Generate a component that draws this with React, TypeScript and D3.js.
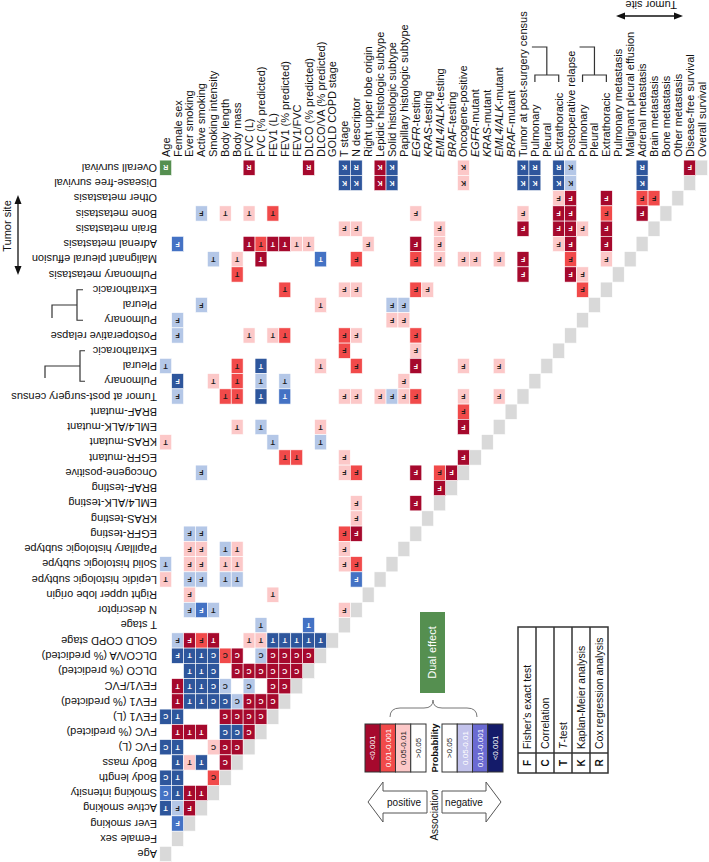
import React from "react";
import * as d3 from "d3";

// Variables (columns left->right, rows bottom->top)
const variables: string[] = [
  "Age", "Female sex", "Ever smoking", "Active smoking", "Smoking intensity",
  "Body length", "Body mass", "FVC (L)", "FVC (% predicted)", "FEV1 (L)",
  "FEV1 (% predicted)", "FEV1/FVC", "DLCO (% predicted)", "DLCO/VA (% predicted)", "GOLD COPD stage",
  "T stage", "N descriptor", "Right upper lobe origin", "Lepidic histologic subtype", "Solid histologic subtype",
  "Papillary histologic subtype", "EGFR-testing", "KRAS-testing", "EML4/ALK-testing", "BRAF-testing",
  "Oncogene-positive", "EGFR-mutant", "KRAS-mutant", "EML4/ALK-mutant", "BRAF-mutant",
  "Tumor at post-surgery census", "Pulmonary", "Pleural", "Extrathoracic", "Postoperative relapse",
  "Pulmonary", "Pleural", "Extrathoracic", "Pulmonary metastasis", "Malignant pleural effusion",
  "Adrenal metastasis", "Brain metastasis", "Bone metastasis", "Other metastasis", "Disease-free survival",
  "Overall survival",
];
const italicGeneCols: number[] = [21, 22, 23, 24, 26, 27, 28, 29];

// [row variable, column variable, significance level, test]
// P3 <0.001 pos, P2 0.01-0.001 pos, P1 0.05-0.01 pos, N1/N2/N3 negative, D dual effect
const associations: [number, number, string, string][] = [
  [45,0,"D","R"],[45,7,"P3","R"],[45,12,"P3","R"],[45,15,"N3","K"],[45,16,"N3","R"],[45,18,"P3","K"],[45,19,"N3","K"],
  [45,25,"P1","K"],[45,30,"N3","K"],[45,31,"N3","R"],[45,33,"N3","R"],[45,34,"N1","K"],[45,40,"N3","R"],[45,44,"P3","F"],
  [44,15,"N3","K"],[44,16,"N3","K"],[44,18,"P3","K"],[44,19,"N3","K"],[44,25,"P1","K"],[44,30,"N3","K"],[44,31,"N3","K"],
  [44,33,"N3","K"],[44,34,"N1","K"],[44,40,"N3","K"],
  [43,33,"P1","F"],[43,34,"P3","F"],[43,37,"P3","F"],[43,40,"P2","F"],[43,41,"P2","F"],
  [42,3,"N1","F"],[42,5,"P1","T"],[42,7,"P1","T"],[42,9,"P2","T"],[42,21,"P1","F"],[42,30,"P1","F"],[42,33,"P3","F"],
  [42,34,"P3","F"],[42,37,"P2","F"],[42,40,"P3","F"],
  [41,15,"P1","F"],[41,16,"P1","F"],[41,23,"P1","F"],[41,30,"P3","F"],[41,33,"P3","F"],[41,34,"P3","F"],[41,35,"P1","F"],[41,37,"P3","F"],
  [40,1,"N2","F"],[40,7,"P3","T"],[40,8,"P2","T"],[40,9,"P3","T"],[40,10,"P3","T"],[40,11,"P1","T"],[40,12,"P1","T"],
  [40,17,"P1","F"],[40,21,"P3","F"],[40,23,"P1","F"],[40,33,"P1","F"],[40,34,"P3","F"],[40,37,"P3","F"],
  [39,4,"N1","T"],[39,6,"P1","T"],[39,8,"P3","T"],[39,13,"N2","T"],[39,16,"P2","F"],[39,21,"P2","F"],[39,23,"P1","F"],
  [39,25,"P1","F"],[39,26,"P1","F"],[39,28,"P1","F"],[39,30,"P3","F"],[39,34,"P2","F"],[39,37,"P1","F"],
  [38,6,"P2","T"],[38,30,"P3","F"],[38,34,"P3","F"],[38,35,"P1","F"],
  [37,10,"P2","T"],[37,15,"P1","F"],[37,16,"P1","F"],[37,21,"P2","F"],[37,22,"P1","F"],[37,35,"P2","F"],
  [36,3,"N1","F"],[36,13,"P1","T"],[36,19,"N1","F"],[36,20,"N1","F"],
  [35,1,"N1","F"],[35,19,"P1","F"],[35,20,"P1","F"],
  [34,1,"N1","F"],[34,7,"P1","T"],[34,9,"P1","T"],[34,10,"P2","T"],[34,15,"P2","F"],[34,16,"P1","F"],[34,21,"P2","F"],
  [33,15,"P2","F"],[33,21,"P1","F"],
  [32,0,"N1","T"],[32,6,"P2","T"],[32,8,"N3","T"],[32,13,"P1","T"],[32,16,"P2","F"],[32,21,"P3","F"],[32,25,"P1","F"],[32,28,"P1","F"],
  [31,1,"N3","F"],[31,4,"P1","T"],[31,6,"P2","T"],[31,8,"N1","T"],[31,10,"N1","T"],[31,20,"P1","F"],
  [30,1,"N1","F"],[30,5,"P2","T"],[30,6,"P2","T"],[30,8,"N3","T"],[30,10,"N2","T"],[30,15,"P1","F"],[30,16,"P1","F"],
  [30,18,"P1","F"],[30,19,"N1","F"],[30,20,"P1","F"],[30,21,"P2","F"],[30,25,"P1","F"],[30,28,"P1","F"],
  [29,25,"P2","F"],
  [28,6,"P1","T"],[28,8,"N1","T"],[28,13,"P1","T"],[28,25,"P3","F"],
  [27,0,"P1","T"],[27,9,"N1","T"],[27,13,"N1","T"],
  [26,10,"P2","T"],[26,11,"P2","T"],[26,15,"P1","F"],[26,25,"P3","F"],
  [25,3,"N1","F"],[25,15,"P1","F"],[25,16,"P2","F"],[25,21,"P3","F"],[25,23,"P2","F"],[25,24,"P3","F"],
  [24,23,"P3","F"],
  [23,16,"P1","F"],[23,21,"P3","F"],
  [22,16,"P1","F"],
  [21,2,"N1","F"],[21,3,"N1","F"],[21,15,"P2","F"],[21,16,"P3","F"],
  [20,2,"P1","F"],[20,3,"P1","F"],[20,5,"N1","T"],[20,6,"P1","T"],[20,15,"P1","F"],
  [19,0,"N1","T"],[19,2,"P1","F"],[19,3,"P1","F"],[19,5,"P1","T"],[19,6,"P1","T"],[19,15,"P1","F"],[19,16,"P2","F"],
  [18,0,"P1","T"],[18,2,"N1","F"],[18,3,"N1","F"],[18,5,"N1","T"],[18,6,"N1","T"],[18,16,"N2","F"],
  [17,2,"P1","F"],[17,9,"P1","T"],
  [16,2,"N1","F"],[16,3,"N2","F"],[16,4,"N1","T"],[16,15,"P1","F"],
  [15,8,"N1","T"],[15,12,"N2","T"],
  [14,1,"N1","F"],[14,2,"P3","F"],[14,3,"P2","F"],[14,4,"P3","T"],[14,7,"P1","T"],[14,8,"P1","T"],
  [14,9,"N3","T"],[14,10,"N3","T"],[14,11,"N3","T"],[14,12,"N3","T"],[14,13,"N3","T"],
  [13,1,"N3","F"],[13,2,"N3","T"],[13,3,"N3","T"],[13,4,"N3","C"],[13,5,"P2","C"],[13,6,"P3","C"],[13,8,"N1","C"],
  [13,9,"P3","C"],[13,10,"P3","C"],[13,11,"P3","C"],[13,12,"P3","C"],
  [12,2,"N3","T"],[12,3,"N3","T"],[12,4,"N3","C"],[12,6,"P3","C"],[12,7,"P3","C"],[12,8,"P3","C"],[12,9,"P3","C"],
  [12,10,"P3","C"],[12,11,"P3","C"],
  [11,1,"P3","T"],[11,2,"N3","T"],[11,3,"N3","T"],[11,4,"N3","C"],[11,5,"N1","C"],[11,7,"N1","C"],[11,9,"P3","C"],[11,10,"P3","C"],
  [10,1,"P3","T"],[10,2,"N3","T"],[10,3,"N3","T"],[10,4,"N3","C"],[10,5,"N3","C"],[10,6,"N1","C"],[10,7,"P3","C"],
  [10,8,"P3","C"],[10,9,"P3","C"],
  [9,0,"N3","C"],[9,1,"N3","T"],[9,5,"P3","C"],[9,6,"P3","C"],[9,7,"P3","C"],[9,8,"P3","C"],
  [8,1,"P3","T"],[8,2,"P3","T"],[8,3,"P3","T"],[8,5,"N3","C"],[8,6,"N3","C"],[8,7,"P3","C"],
  [7,0,"N3","C"],[7,1,"N3","T"],[7,4,"P1","C"],[7,5,"P3","C"],[7,6,"P3","C"],
  [6,1,"N3","T"],[6,2,"P1","T"],[6,3,"N3","T"],[6,5,"P3","C"],
  [5,0,"N3","C"],[5,1,"N3","T"],[5,4,"P2","C"],
  [4,0,"N2","C"],[4,1,"N3","T"],[4,2,"P3","T"],[4,3,"P3","T"],
  [3,0,"N3","T"],[3,1,"N1","F"],[3,2,"P3","F"],
  [2,1,"N2","F"],
];

const positiveLevels: string[] = ["<0.001", "0.01-0.001", "0.05-0.01", ">0.05"];
const negativeLevels: string[] = [">0.05", "0.05-0.01", "0.01-0.001", "<0.001"];
const testLetters: string[] = ["F", "C", "T", "K", "R"];
const testNames: string[] = ["Fisher's exact test", "Correlation", "T-test", "Kaplan-Meier analysis", "Cox regression analysis"];

const levelColor: Record<string, string> = {
  P3: "#a6092d", P2: "#f14a4a", P1: "#fcc8c8",
  N1: "#b4c7e7", N2: "#4472c4", N3: "#2e569c", D: "#558f50",
};
const letterColor: Record<string, string> = {
  P3: "#fff", P2: "#1a1a1a", P1: "#1a1a1a", N1: "#1a1a1a", N2: "#fff", N3: "#fff", D: "#fff",
};
const posLegendColors = ["#a6092d", "#f14a4a", "#fcc8c8", "#ffffff"];
const negLegendColors = ["#ffffff", "#c3c3ec", "#6a6ad2", "#141b6a"];
const posLegendText = ["#fff", "#fff", "#222", "#222"];
const negLegendText = ["#222", "#fff", "#fff", "#fff"];

const FONT = "'Liberation Sans', Arial, Helvetica, sans-serif";

export default function App() {
  const W = 709, H = 862;
  const n = variables.length;
  const x = d3.scaleBand<number>().domain(d3.range(n)).range([159.75, 707.6]).padding(0);
  const y = d3.scaleBand<number>().domain(d3.range(n - 1, -1, -1)).range([160.1, 861.6]).padding(0);
  const bw = x.bandwidth(), bh = y.bandwidth();
  const cx = (i: number) => (x(i) as number) + bw / 2;
  const cy = (j: number) => (y(j) as number) + bh / 2;

  const colLabel = (i: number) => {
    const lab = variables[i];
    if (italicGeneCols.includes(i)) {
      const k = lab.lastIndexOf("-");
      return (<><tspan fontStyle="italic">{lab.slice(0, k)}</tspan><tspan>{lab.slice(k)}</tspan></>);
    }
    return lab;
  };

  // legend scales
  const posX = d3.scaleBand<number>().domain(d3.range(4)).range([365, 426]);
  const negX = d3.scaleBand<number>().domain(d3.range(4)).range([442, 503]);
  const legY0 = 724, legY1 = 772;
  const tabX = d3.scaleBand<number>().domain(d3.range(5)).range([518, 608]);
  const tabY0 = 627, tabY1 = 773, tabSplit = 753;

  const colBracket = (a: number, m: number, b: number) =>
    `M${cx(a)},82V75H${cx(b)}V82M${cx(m)},75V47H${cx(a) - 3}`;
  const rowBracketA = `M85,${cy(33)}H80V${cy(31)}H85M80,${cy(32)}H45V${cy(32) + 12}`;
  const rowBracketB = `M83,${cy(37)}H77V${cy(35)}H83M77,${cy(36)}H52V${cy(36) + 13}`;

  return (
    <svg width={W} height={H} style={{ position: "absolute", left: 0, top: 0, background: "#fff" }} fontFamily={FONT}>
      <rect width={W} height={H} fill="#fff" />
      {/* diagonal */}
      {d3.range(n).map((i) => (
        <rect key={"d" + i} x={x(i)} y={y(i)} width={bw} height={bh} fill="#d9d9d9" stroke="#fff" strokeWidth={0.6} />
      ))}
      {/* cells */}
      {associations.map(([r, c, lv, t], k) => (
        <g key={"c" + k}>
          <rect x={x(c)} y={y(r)} width={bw} height={bh} fill={levelColor[lv]} stroke="#fff" strokeWidth={0.6} />
          <text transform={`translate(${cx(c)},${cy(r)}) rotate(180)`} textAnchor="middle" dy="0.35em"
            fontSize={7} fontWeight="bold" fill={letterColor[lv]}>{t}</text>
        </g>
      ))}
      {/* column labels */}
      {d3.range(n).map((i) => (
        <text key={"cl" + i} transform={`translate(${cx(i)},157) rotate(-90)`} dy="0.36em" fontSize={11} fill="#111">
          {colLabel(i)}
        </text>
      ))}
      {/* row labels */}
      {d3.range(n).map((j) => (
        <text key={"rl" + j} transform={`translate(157,${cy(j)}) rotate(180)`} dy="0.36em" fontSize={11} fill="#111">
          {variables[j]}
        </text>
      ))}
      {/* brackets */}
      <g fill="none" stroke="#333" strokeWidth={1.2}>
        <path d={colBracket(31, 32, 33)} />
        <path d={colBracket(35, 36, 37)} />
        <path d={rowBracketA} />
        <path d={rowBracketB} />
      </g>
      {/* tumor site arrows */}
      <g stroke="#111" strokeWidth={1.3} fill="#111">
        <line x1={18} y1={201} x2={18} y2={269} />
        <path d="M18,195L14.5,204L21.5,204Z" stroke="none" />
        <path d="M18,275L14.5,266L21.5,266Z" stroke="none" />
        <line x1={622} y1={16} x2={677} y2={16} />
        <path d="M616,16L625,12.5L625,19.5Z" stroke="none" />
        <path d="M683,16L674,12.5L674,19.5Z" stroke="none" />
      </g>
      <text transform="translate(10.5,226) rotate(-90)" textAnchor="middle" fontSize={11} fill="#111">Tumor site</text>
      <text transform="translate(677,0.5) rotate(180)" fontSize={11} fill="#111">Tumor site</text>

      {/* dual effect */}
      <rect x={420} y={612} width={25} height={81} fill="#558f50" />
      <text transform="translate(432.5,652.5) rotate(-90)" textAnchor="middle" dy="0.35em" fontSize={11} fill="#fff">Dual effect</text>
      <path d="M390,717Q390,708 400,708L424,708Q433,708 433,700Q433,708 442,708L467,708Q477,708 477,717"
        fill="none" stroke="#777" strokeWidth={1} />

      {/* positive legend */}
      {positiveLevels.map((s, k) => (
        <g key={"pl" + k}>
          <rect x={posX(k)} y={legY0} width={posX.bandwidth()} height={legY1 - legY0} fill={posLegendColors[k]} stroke="#333" strokeWidth={1} />
          <text transform={`translate(${(posX(k) as number) + posX.bandwidth() / 2},${(legY0 + legY1) / 2}) rotate(-90)`}
            textAnchor="middle" dy="0.35em" fontSize={8} fill={posLegendText[k]}>{s}</text>
        </g>
      ))}
      <text transform={`translate(438,${(legY0 + legY1) / 2}) rotate(-90)`} textAnchor="middle" fontSize={9.5} fontWeight="bold" fill="#111">Probability</text>
      {negativeLevels.map((s, k) => (
        <g key={"nl" + k}>
          <rect x={negX(k)} y={legY0} width={negX.bandwidth()} height={legY1 - legY0} fill={negLegendColors[k]} stroke="#333" strokeWidth={1} />
          <text transform={`translate(${(negX(k) as number) + negX.bandwidth() / 2},${(legY0 + legY1) / 2}) rotate(-90)`}
            textAnchor="middle" dy="0.35em" fontSize={8} fill={negLegendText[k]}>{s}</text>
        </g>
      ))}
      {/* association arrows */}
      <path d="M368,802L383,782L383,791L427,791L427,813L383,813L383,822Z" fill="#fff" stroke="#555" strokeWidth={1} />
      <text x={404} y={802} textAnchor="middle" dy="0.35em" fontSize={10} fill="#111">positive</text>
      <path d="M501,802L486,782L486,791L442,791L442,813L486,813L486,822Z" fill="#fff" stroke="#555" strokeWidth={1} />
      <text x={464} y={802} textAnchor="middle" dy="0.35em" fontSize={10} fill="#111">negative</text>
      <text transform="translate(438,815) rotate(-90)" textAnchor="middle" fontSize={10} fill="#111">Association</text>

      {/* test table */}
      <rect x={518} y={tabY0} width={90} height={tabY1 - tabY0} fill="#fff" stroke="#333" strokeWidth={1.5} />
      {d3.range(1, 5).map((k) => (
        <line key={"tv" + k} x1={tabX(k)} x2={tabX(k)} y1={tabY0} y2={tabY1} stroke="#333" strokeWidth={1.5} />
      ))}
      <line x1={518} x2={608} y1={tabSplit} y2={tabSplit} stroke="#333" strokeWidth={1.5} />
      {testLetters.map((l, k) => (
        <text key={"tl" + k} transform={`translate(${(tabX(k) as number) + tabX.bandwidth() / 2},${(tabSplit + tabY1) / 2}) rotate(-90)`}
          textAnchor="middle" dy="0.36em" fontSize={10} fontWeight="bold" fill="#111">{l}</text>
      ))}
      {testNames.map((s, k) => (
        <text key={"tn" + k} transform={`translate(${(tabX(k) as number) + tabX.bandwidth() / 2},${tabSplit - 4}) rotate(-90)`}
          dy="0.36em" fontSize={10.5} fill="#111">
          {s === "T-test" ? (<><tspan fontStyle="italic">T</tspan><tspan>-test</tspan></>) : s}
        </text>
      ))}
    </svg>
  );
}
